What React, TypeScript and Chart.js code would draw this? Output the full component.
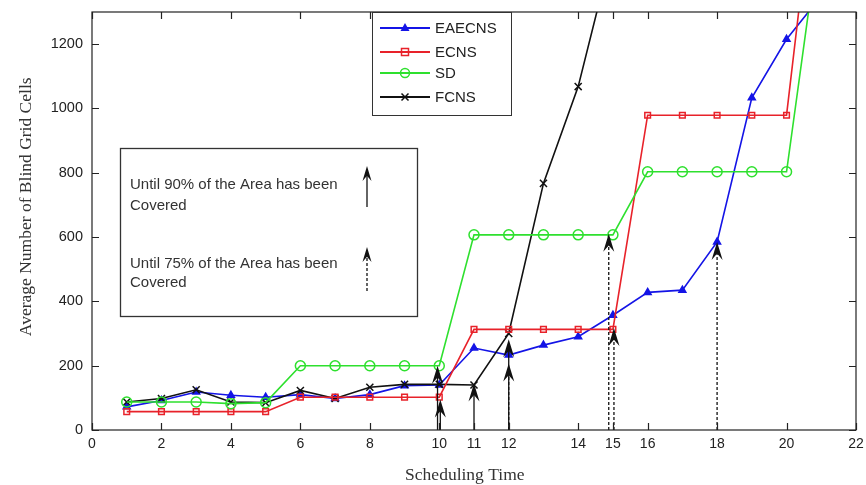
import React, { useEffect, useRef } from "react";
import { Chart, registerables } from "chart.js";

Chart.register(...registerables);

const timeSteps = [1, 2, 3, 4, 5, 6, 7, 8, 9, 10, 11, 12, 13, 14, 15, 16, 17, 18, 19, 20, 21];
const eaecns = [72, 92, 118, 108, 102, 110, 98, 110, 138, 140, 255, 233, 264, 290, 357, 428, 435, 585, 1033, 1215, 1350];
const ecns = [57, 57, 57, 57, 57, 102, 102, 102, 102, 102, 313, 313, 313, 313, 313, 979, 979, 979, 979, 979, 1900];
const sd = [87, 87, 87, 82, 85, 200, 200, 200, 200, 200, 607, 607, 607, 607, 607, 803, 803, 803, 803, 803, 1590];
const fcnsSteps = [1, 2, 3, 4, 5, 6, 7, 8, 9, 10, 11, 12, 13, 14, 15];
const fcns = [87, 98, 125, 87, 85, 123, 98, 133, 142, 142, 140, 300, 767, 1068, 1500];

const xTicks = [0, 2, 4, 6, 8, 10, 11, 12, 14, 15, 16, 18, 20, 22];
const yTicks = [0, 200, 400, 600, 800, 1000, 1200];

const xTitle = "Scheduling Time";
const yTitle = "Average Number of Blind Grid Cells";

// coverage arrows: x position, tip value, dashed (75%) or solid (90%)
const arrowX = [9.95, 10.03, 11, 12, 12, 14.88, 15.03, 18];
const arrowTip = [200, 95, 145, 282, 207, 610, 317, 585];
const arrowDashed = [false, false, false, false, true, true, true, true];

const seriesNames = ["EAECNS", "ECNS", "SD", "FCNS"];
const seriesColors = ["#1414e6", "#e8222a", "#2ee02e", "#111111"];
const seriesMarkers = ["triangle", "rect", "circle", "crossRot"];

const serifFont = "17.5px 'Liberation Serif', 'Times New Roman', serif";

function drawHead(ctx: CanvasRenderingContext2D, x: number, tip: number, w: number, h: number) {
  ctx.beginPath();
  ctx.moveTo(x, tip);
  ctx.lineTo(x - w / 2, tip + h);
  ctx.lineTo(x, tip + h * 0.65);
  ctx.lineTo(x + w / 2, tip + h);
  ctx.closePath();
  ctx.fill();
}

function drawArrow(ctx: CanvasRenderingContext2D, x: number, base: number, tip: number, dashed: boolean, w: number, h: number) {
  ctx.save();
  ctx.strokeStyle = "#111";
  ctx.fillStyle = "#111";
  ctx.lineWidth = 1.3;
  ctx.setLineDash(dashed ? [3, 2] : []);
  ctx.beginPath();
  ctx.moveTo(x, base);
  ctx.lineTo(x, tip + h * 0.6);
  ctx.stroke();
  ctx.setLineDash([]);
  drawHead(ctx, x, tip, w, h);
  ctx.restore();
}

function drawMarker(ctx: CanvasRenderingContext2D, kind: string, x: number, y: number, color: string) {
  ctx.save();
  ctx.strokeStyle = color;
  ctx.fillStyle = color;
  ctx.lineWidth = 1.5;
  if (kind === "triangle") {
    ctx.beginPath();
    ctx.moveTo(x, y - 5);
    ctx.lineTo(x - 4.5, y + 3);
    ctx.lineTo(x + 4.5, y + 3);
    ctx.closePath();
    ctx.fill();
  } else if (kind === "rect") {
    ctx.strokeRect(x - 3.5, y - 3.5, 7, 7);
  } else if (kind === "circle") {
    ctx.beginPath();
    ctx.arc(x, y, 4.5, 0, Math.PI * 2);
    ctx.stroke();
  } else {
    ctx.beginPath();
    ctx.moveTo(x - 3.5, y - 3.5);
    ctx.lineTo(x + 3.5, y + 3.5);
    ctx.moveTo(x + 3.5, y - 3.5);
    ctx.lineTo(x - 3.5, y + 3.5);
    ctx.stroke();
  }
  ctx.restore();
}

const overlayPlugin = {
  id: "overlay",
  afterDatasetsDraw(chart: any) {
    const ctx: CanvasRenderingContext2D = chart.ctx;
    const { left, right, top, bottom } = chart.chartArea;
    const xs = chart.scales.x;
    const ys = chart.scales.y;

    // coverage arrows
    ctx.save();
    ctx.beginPath();
    ctx.rect(left, top, right - left, bottom - top);
    ctx.clip();
    for (let i = 0; i < arrowX.length; i++) {
      drawArrow(ctx, xs.getPixelForValue(arrowX[i]), bottom, ys.getPixelForValue(arrowTip[i]), arrowDashed[i], 11, 18);
    }
    ctx.restore();

    // frame and inward ticks
    ctx.save();
    ctx.strokeStyle = "#222";
    ctx.lineWidth = 1.2;
    ctx.strokeRect(left, top, right - left, bottom - top);
    ctx.beginPath();
    for (const t of xTicks) {
      const px = Math.round(xs.getPixelForValue(t)) + 0.5;
      ctx.moveTo(px, bottom);
      ctx.lineTo(px, bottom - 7);
      ctx.moveTo(px, top);
      ctx.lineTo(px, top + 7);
    }
    for (const t of yTicks) {
      const py = Math.round(ys.getPixelForValue(t)) + 0.5;
      ctx.moveTo(left, py);
      ctx.lineTo(left + 7, py);
      ctx.moveTo(right, py);
      ctx.lineTo(right - 7, py);
    }
    ctx.stroke();
    ctx.restore();

    // axis titles
    ctx.save();
    ctx.fillStyle = "#333";
    ctx.font = serifFont;
    ctx.textAlign = "center";
    ctx.textBaseline = "middle";
    ctx.fillText(xTitle, left + (right - left) * 0.488, bottom + 45);
    ctx.translate(left - 66, top + (bottom - top) * 0.466);
    ctx.rotate(-Math.PI / 2);
    ctx.fillText(yTitle, 0, 0);
    ctx.restore();

    // legend
    ctx.save();
    const lx = left + 280;
    const ly = top;
    ctx.fillStyle = "#fff";
    ctx.fillRect(lx, ly, 139, 103);
    ctx.strokeStyle = "#333";
    ctx.lineWidth = 1;
    ctx.strokeRect(lx + 0.5, ly + 0.5, 139, 103);
    const rows = [16, 40, 61, 85];
    ctx.font = "15px 'Liberation Sans', Arial, sans-serif";
    ctx.textBaseline = "middle";
    for (let i = 0; i < seriesNames.length; i++) {
      const y = ly + rows[i];
      ctx.strokeStyle = seriesColors[i];
      ctx.lineWidth = 1.8;
      ctx.beginPath();
      ctx.moveTo(lx + 8, y);
      ctx.lineTo(lx + 58, y);
      ctx.stroke();
      drawMarker(ctx, seriesMarkers[i], lx + 33, y, seriesColors[i]);
      ctx.fillStyle = "#222";
      ctx.fillText(seriesNames[i], lx + 63, y + 1);
    }
    ctx.restore();

    // annotation box
    ctx.save();
    const bx = left + 28;
    const by = top + 136;
    ctx.fillStyle = "#fff";
    ctx.fillRect(bx, by, 297, 168);
    ctx.strokeStyle = "#333";
    ctx.lineWidth = 1.3;
    ctx.strokeRect(bx + 0.5, by + 0.5, 297, 168);
    ctx.fillStyle = "#333";
    ctx.font = "15px 'Liberation Sans', Arial, sans-serif";
    ctx.textBaseline = "middle";
    ctx.fillText("Until 90% of the Area has been", bx + 10, by + 37);
    ctx.fillText("Covered", bx + 10, by + 58);
    ctx.fillText("Until 75% of the Area has been", bx + 10, by + 116);
    ctx.fillText("Covered", bx + 10, by + 135);
    drawArrow(ctx, bx + 247, by + 59, by + 18, false, 9, 15);
    drawArrow(ctx, bx + 247, by + 143, by + 99, true, 9, 15);
    ctx.restore();
  },
};

function mkDataset(label: string, xsArr: number[], ysArr: number[], color: string, style: string, fill: boolean, radius: number) {
  return {
    label,
    data: xsArr.map((x, i) => ({ x, y: ysArr[i] })),
    borderColor: color,
    backgroundColor: fill ? color : "rgba(0,0,0,0)",
    pointStyle: style,
    pointRadius: radius,
    pointBorderColor: color,
    pointBackgroundColor: fill ? color : "rgba(0,0,0,0)",
    pointBorderWidth: 1.5,
    borderWidth: 1.6,
    tension: 0,
  };
}

export default function App() {
  const ref = useRef<HTMLCanvasElement | null>(null);
  useEffect(() => {
    if (!ref.current) return;
    const chart = new Chart(ref.current, {
      type: "line",
      data: {
        datasets: [
          mkDataset("SD", timeSteps, sd, seriesColors[2], "circle", false, 5),
          mkDataset("ECNS", timeSteps, ecns, seriesColors[1], "rect", false, 4),
          mkDataset("FCNS", fcnsSteps, fcns, seriesColors[3], "crossRot", false, 5),
          mkDataset("EAECNS", timeSteps, eaecns, seriesColors[0], "triangle", true, 4),
        ] as any,
      },
      options: {
        responsive: false,
        animation: false,
        layout: { padding: { top: 12, right: 10, left: 0, bottom: 0 } },
        plugins: { legend: { display: false }, tooltip: { enabled: false } },
        scales: {
          x: {
            type: "linear",
            min: 0,
            max: 22,
            afterBuildTicks: (axis: any) => {
              axis.ticks = xTicks.map((v) => ({ value: v }));
            },
            afterFit: (axis: any) => {
              axis.height = 55;
              axis.paddingLeft = 0;
              axis.paddingRight = 0;
            },
            grid: { display: false, drawTicks: false },
            border: { display: false },
            ticks: {
              font: { family: "'Liberation Sans', Arial, sans-serif", size: 14 },
              color: "#222",
              padding: 6,
              maxRotation: 0,
              autoSkip: false,
              callback: (v: any) => String(v),
            },
            title: { display: false },
          },
          y: {
            type: "linear",
            min: 0,
            max: 1300,
            afterBuildTicks: (axis: any) => {
              axis.ticks = yTicks.map((v) => ({ value: v }));
            },
            afterFit: (axis: any) => {
              axis.width = 92;
              axis.paddingTop = 0;
              axis.paddingBottom = 0;
            },
            grid: { display: false, drawTicks: false },
            border: { display: false },
            ticks: {
              font: { family: "'Liberation Sans', Arial, sans-serif", size: 14.5 },
              color: "#222",
              padding: 9,
              callback: (v: any) => String(v),
            },
            title: { display: false },
          },
        },
      } as any,
      plugins: [overlayPlugin],
    });
    return () => chart.destroy();
  }, []);
  return (
    <div style={{ position: "absolute", left: 0, top: 0, width: 866, height: 485, background: "#fff" }}>
      <canvas ref={ref} width={866} height={485} />
    </div>
  );
}
